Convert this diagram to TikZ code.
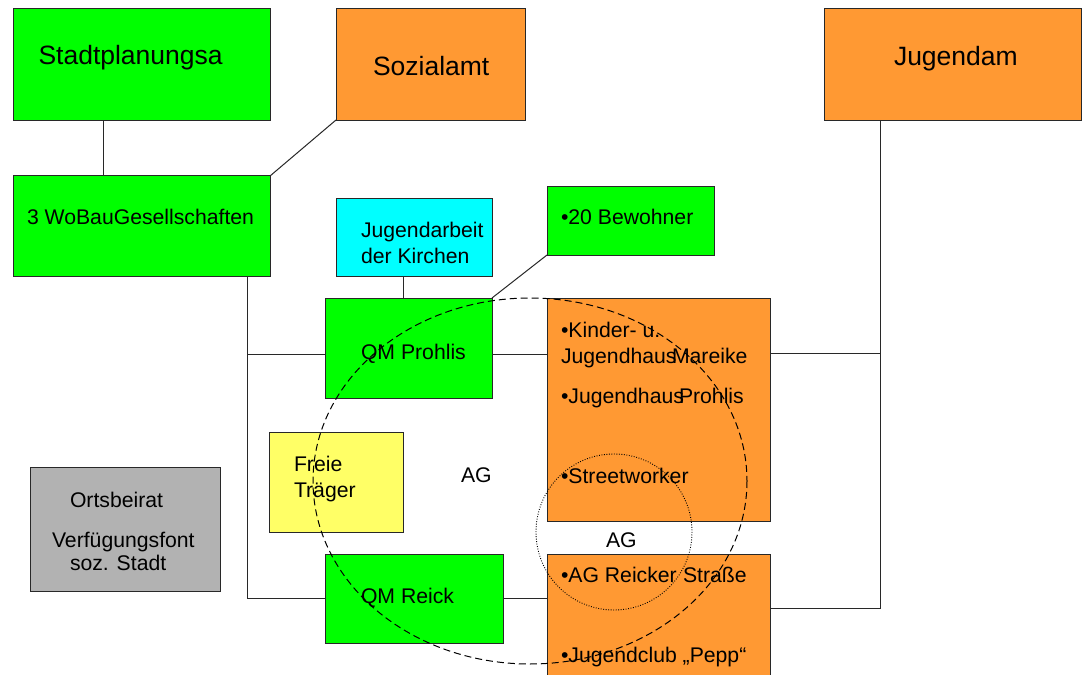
\documentclass[tikz,border=0pt]{standalone}
\usepackage{fontspec}
\setmainfont{Liberation Sans}
\definecolor{cgreen}{RGB}{0,255,0}
\definecolor{corange}{RGB}{255,153,51}
\definecolor{ccyan}{RGB}{0,255,255}
\definecolor{cyellow}{RGB}{255,255,102}
\definecolor{cgray}{RGB}{178,178,178}
\definecolor{cline}{RGB}{40,40,40}
\newcommand\mybox[7]{\node[box, fill=#2, minimum width=#5bp, minimum height=#6bp] (#1) at (#3,#4) {};}
\begin{document}
\begin{tikzpicture}[x=1bp,y=-1bp,
  box/.style={draw=cline, line width=1bp, inner sep=0pt, outer sep=0pt, anchor=north west},
  conn/.style={draw=cline, line width=1bp},
  txt/.style={anchor=base west, inner sep=0pt, outer sep=0pt, font=\fontsize{21.2bp}{25bp}\selectfont},
  big/.style={txt, font=\fontsize{26.5bp}{30bp}\selectfont},
  agring/.style={draw=black, line width=1bp, dash pattern=on 7bp off 4bp},
  smallring/.style={draw=black, line width=0.9bp, dash pattern=on 0.9bp off 1.6bp}]
\useasboundingbox (0,0) rectangle (1087,675);
\fill[white] (0,0) rectangle (1087,675);
% boxes
\mybox{stadt}{cgreen}{13}{9}{257}{111}{}
\mybox{sozial}{corange}{336}{9}{189}{111}{}
\mybox{jugendam}{corange}{824}{9}{257}{111}{}
\mybox{wobau}{cgreen}{13}{176}{257}{100}{}
\mybox{kirche}{ccyan}{336}{198}{156}{78}{}
\mybox{bewohner}{cgreen}{547}{187}{167}{68}{}
\mybox{qmp}{cgreen}{325}{298}{167}{100}{}
\mybox{freie}{cyellow}{269}{432}{134}{100}{}
\mybox{qmr}{cgreen}{325}{554}{178}{89}{}
\mybox{orone}{corange}{547}{298}{223}{223}{}
\mybox{ortwo}{corange}{547}{554}{223}{140}{}
\mybox{grau}{cgray}{30}{467}{190}{124}{}
% helper coordinates
\coordinate (vx) at (103,0);
\coordinate (lx) at (247,0);
\coordinate (kx) at (403,0);
\coordinate (rx) at (880,0);
\coordinate (hp) at (0,354);
\coordinate (ho) at (0,353);
\coordinate (hr) at (0,608);
% connectors
\draw[conn] (stadt.south -| vx) -- (wobau.north -| vx);
\draw[conn] (sozial.south west) -- (wobau.north east);
\draw[conn] (wobau.south -| lx) -- (lx |- qmr.west) -- (qmr.west);
\draw[conn] (lx |- hp) -- (qmp.west |- hp);
\draw[conn] (kirche.south -| kx) -- (qmp.north -| kx);
\draw[conn] (bewohner.south west) -- (qmp.north east);
\draw[conn] (qmp.east |- hp) -- (orone.west |- hp);
\draw[conn] (qmr.east) -- (ortwo.west |- qmr.east);
\draw[conn] (jugendam.south -| rx) -- (rx |- hr) -- (ortwo.east |- hr);
\draw[conn] (orone.east |- ho) -- (rx |- ho);
% texts
\node[big] (t1) at (38.5,65) {Stadtplanungsa};
\node[big] (t2) at (373,76) {Sozialamt};
\node[big] (t3) at (894,66) {Jugendam};
\node[txt] (t4) at (27,224) {3 WoBauGesellschaften};
\node[txt] (t5) at (361,237) {Jugendarbeit};
\node[txt] (t6) at (361,263) {der Kirchen};
\node[txt] (t7) at (561,224) {•20 Bewohner};
\node[txt] (t8) at (361,359) {QM Prohlis};
\node[txt] (t9) at (294,471) {Freie};
\node[txt] (t10) at (294,497) {Träger};
\node[txt] (t11) at (461,482) {AG};
\node[txt] (t12) at (361,603) {QM Reick};
\node[txt] (t13) at (561,337) {•Kinder- u.};
\node[txt] (t14) at (561,363) {Jugendhaus};
\node[txt] (t15) at (672,363) {Mareike};
\node[txt] (t16) at (561,403) {•Jugendhaus};
\node[txt] (t17) at (679,403) {Prohlis};
\node[txt] (t18) at (561,483) {•Streetworker};
\node[txt] (t19) at (606,547) {AG};
\node[txt] (t20) at (561,582) {•AG Reicker};
\node[txt] (t21) at (683,582) {Straße};
\node[txt] (t22) at (561,662) {•Jugendclub „Pepp“};
\node[txt] (t23) at (70,507) {Ortsbeirat};
\node[txt] (t24) at (52,547) {Verfügungsfont};
\node[txt] (t25) at (70,570) {soz. Stadt};
% rings
\draw[agring] (530,481) ellipse [x radius=217, y radius=183];
\draw[smallring] (614,532) circle [radius=78];
\end{tikzpicture}
\end{document}
